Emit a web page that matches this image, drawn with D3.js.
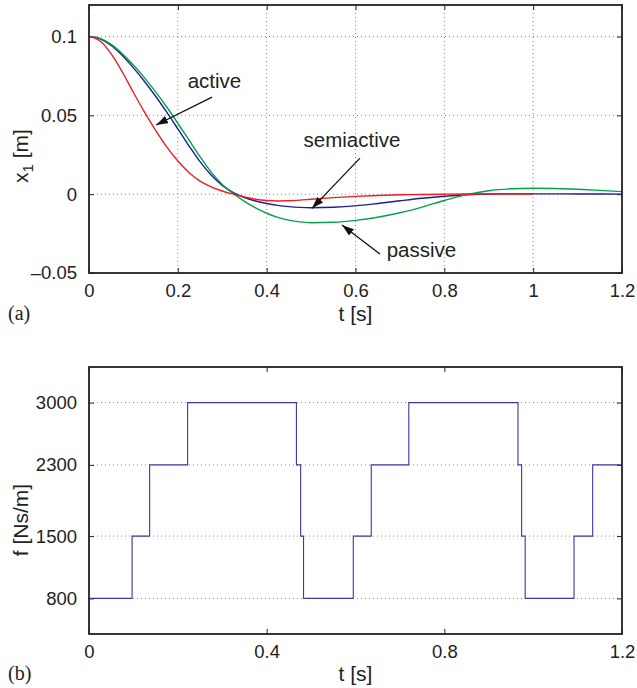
<!DOCTYPE html>
<html>
<head>
<meta charset="UTF-8">
<title>Suspension response</title>
<style>
  body { margin: 0; background: #fff; }
  svg { display: block; }
  .tick text { font-family: "Liberation Sans", Arial, sans-serif; font-size: 18.5px; fill: #222; }
  .tick line { stroke: #222; stroke-width: 1; }
  .lbl { font-family: "Liberation Sans", Arial, sans-serif; font-size: 21px; fill: #222; }
  .note { font-family: "Liberation Sans", Arial, sans-serif; font-size: 20.5px; fill: #222; }
  .panel { font-family: "Liberation Serif", "Times New Roman", serif; font-size: 20px; fill: #222; }
  .grid { stroke: #888; stroke-width: 1; stroke-dasharray: 1,3; }
  .box { fill: none; stroke: #222; stroke-width: 1.8; }
</style>
</head>
<body>
<script src="https://d3js.org/d3.v7.min.js"></script>
<script>
// (a) displacement x1 over time
const tTop = [0, 0.025, 0.05, 0.075, 0.1, 0.125, 0.15, 0.175, 0.2, 0.225, 0.25, 0.275, 0.3,
              0.325, 0.35, 0.375, 0.4, 0.425, 0.45, 0.475, 0.5,
              0.55, 0.6, 0.65, 0.7, 0.75, 0.8, 0.85, 0.9, 0.95, 1.0, 1.05, 1.1, 1.15, 1.2];
const activeX = [0.1, 0.0972, 0.089, 0.0775, 0.0645, 0.052, 0.0405, 0.03, 0.021, 0.0138, 0.0083,
                 0.0047, 0.002, 0, -0.0018, -0.0032, -0.004, -0.0043, -0.0042, -0.0038, -0.0032,
                 -0.0022, -0.0014, -0.0008, -0.0004, -0.0002, 0, 0.0001, 0.0001, 0.0001, 0.0001];
const semiactiveX = [0.1, 0.0985, 0.0943, 0.0879, 0.0801, 0.0715, 0.0621, 0.052, 0.0414, 0.0307,
                     0.0206, 0.0121, 0.0056, 0.001, -0.0021, -0.0043, -0.0059, -0.0071, -0.0079,
                     -0.0084, -0.0086, -0.0083, -0.0074, -0.0059, -0.0042, -0.0026, -0.0013,
                     -0.0004, 0.0001, 0.0002, 0.0002, 0.0002, 0.0001, 0.0001, 0];
const passiveX = [0.1, 0.0988, 0.095, 0.0891, 0.0819, 0.0738, 0.0649, 0.0553, 0.045, 0.0344,
                  0.0238, 0.014, 0.0062, 0.0004, -0.0046, -0.0087, -0.0121, -0.0147, -0.0165,
                  -0.0176, -0.0181, -0.0178, -0.0166, -0.0146, -0.0118, -0.0082, -0.004,
                  -0.0003, 0.0022, 0.0034, 0.0038, 0.0036, 0.0031, 0.0024, 0.0016];
const xTicksTop = [0, 0.2, 0.4, 0.6, 0.8, 1, 1.2];
const xTickLabelsTop = ["0", "0.2", "0.4", "0.6", "0.8", "1", "1.2"];
const yTicksTop = [-0.05, 0, 0.05, 0.1];
const yTickLabelsTop = ["\u20130.05", "0", "0.05", "0.1"];

// (b) damping coefficient steps
const switchTimes = [0, 0.097, 0.1365, 0.222, 0.467, 0.4765, 0.483, 0.595, 0.6355, 0.72,
                     0.9658, 0.974, 0.982, 1.092, 1.134, 1.2];
const dampLevels = [800, 1500, 2300, 3000, 2300, 1500, 800, 1500, 2300, 3000,
                    2300, 1500, 800, 1500, 2300, 2300];
const xTicksBot = [0, 0.4, 0.8, 1.2];
const yTicksBot = [800, 1500, 2300, 3000];

const W = 637, H = 688;
const left = 89, right = 622;

const svg = d3.select("body").append("svg").attr("width", W).attr("height", H);

// arrow head
svg.append("defs").append("marker")
  .attr("id", "head").attr("viewBox", "0 0 12 8")
  .attr("refX", 12).attr("refY", 4)
  .attr("markerWidth", 12).attr("markerHeight", 8)
  .attr("markerUnits", "userSpaceOnUse")
  .attr("orient", "auto")
  .append("path").attr("d", "M0,0 L12,4 L0,8 Z").attr("fill", "#111");

function panel(top, bottom, xDomain, yDomain, xTicks, xLabels, yTicks, yLabels, vGrid) {
  const x = d3.scaleLinear().domain(xDomain).range([left, right]);
  const y = d3.scaleLinear().domain(yDomain).range([bottom, top]);
  const g = svg.append("g");

  // grid
  if (vGrid) {
    g.selectAll(".vg").data(xTicks.slice(1, -1)).enter().append("line")
      .attr("class", "grid")
      .attr("x1", d => x(d)).attr("x2", d => x(d))
      .attr("y1", top).attr("y2", bottom);
  }
  g.selectAll(".hg").data(yTicks.filter(d => y(d) > top + 1 && y(d) < bottom - 1)).enter().append("line")
    .attr("class", "grid")
    .attr("x1", left).attr("x2", right)
    .attr("y1", d => y(d)).attr("y2", d => y(d));

  // axes (inward ticks on all four sides)
  g.append("g").attr("transform", `translate(0,${bottom})`)
    .call(d3.axisBottom(x).tickValues(xTicks).tickSize(-5).tickPadding(11)
      .tickFormat((d, i) => xLabels[i]));
  g.append("g").attr("transform", `translate(0,${top})`)
    .call(d3.axisTop(x).tickValues(xTicks).tickSize(-5).tickFormat(""));
  g.append("g").attr("transform", `translate(${left},0)`)
    .call(d3.axisLeft(y).tickValues(yTicks).tickSize(-5).tickPadding(12)
      .tickFormat((d, i) => yLabels[i]));
  g.append("g").attr("transform", `translate(${right},0)`)
    .call(d3.axisRight(y).tickValues(yTicks).tickSize(-5).tickFormat(""));
  g.selectAll(".domain").remove();
  g.selectAll(".tick text").attr("fill", "#222");

  return { x, y, g };
}

// ---- panel (a)
const A = panel(5, 273, [0, 1.2], [-0.05, 0.12], xTicksTop, xTickLabelsTop,
  yTicksTop, yTickLabelsTop, true);

const series = [
  { vals: semiactiveX, color: "#1f1f8f" },
  { vals: passiveX, color: "#00a24a" },
  { vals: activeX, color: "#ee1c24" }
];
const lineA = d3.line().x(d => A.x(d[0])).y(d => A.y(d[1])).curve(d3.curveMonotoneX);
series.forEach(s => {
  A.g.append("path")
    .datum(s.vals.map((v, i) => [tTop[i], v]))
    .attr("fill", "none").attr("stroke", s.color).attr("stroke-width", 1.4)
    .attr("d", lineA);
});

// annotations
const notes = [
  { text: "active", tx: 0.2825, ty: 0.0673, from: [0.277, 0.0616], to: [0.151, 0.0439] },
  { text: "semiactive", tx: 0.592, ty: 0.0301, from: [0.61, 0.0229], to: [0.502, -0.009] },
  { text: "passive", tx: 0.7485, ty: -0.0398, from: [0.655, -0.038], to: [0.5695, -0.0196] }
];
notes.forEach(n => {
  A.g.append("text").attr("class", "note")
    .attr("x", A.x(n.tx)).attr("y", A.y(n.ty))
    .attr("text-anchor", "middle").text(n.text);
  A.g.append("line")
    .attr("x1", A.x(n.from[0])).attr("y1", A.y(n.from[1]))
    .attr("x2", A.x(n.to[0])).attr("y2", A.y(n.to[1]))
    .attr("stroke", "#111").attr("stroke-width", 1.3)
    .attr("marker-end", "url(#head)");
});

A.g.append("rect").attr("class", "box")
  .attr("x", left).attr("y", 5).attr("width", right - left).attr("height", 273 - 5);

// labels (a)
const yl1 = A.g.append("text").attr("class", "lbl")
  .attr("transform", "translate(28,156) rotate(-90)")
  .attr("text-anchor", "middle");
yl1.append("tspan").text("x");
yl1.append("tspan").attr("font-size", "15px").attr("dy", 5).text("1");
yl1.append("tspan").attr("dy", -5).text(" [m]");
A.g.append("text").attr("class", "lbl")
  .attr("x", (left + right) / 2).attr("y", 321).attr("text-anchor", "middle").text("t [s]");
A.g.append("text").attr("class", "panel").attr("x", 8).attr("y", 320).text("(a)");

// ---- panel (b)
const B = panel(367, 634, [0, 1.2], [400, 3400], xTicksBot, xTicksBot.map(String),
  yTicksBot, yTicksBot.map(String), false);

const lineB = d3.line().x(d => B.x(d[0])).y(d => B.y(d[1])).curve(d3.curveStepAfter);
B.g.append("path")
  .datum(switchTimes.map((t, i) => [t, dampLevels[i]]))
  .attr("fill", "none").attr("stroke", "#3a3aa0").attr("stroke-width", 1.1)
  .attr("d", lineB);

B.g.append("rect").attr("class", "box")
  .attr("x", left).attr("y", 367).attr("width", right - left).attr("height", 634 - 367);

B.g.append("text").attr("class", "lbl")
  .attr("transform", "translate(28,520) rotate(-90)")
  .attr("text-anchor", "middle").text("f [Ns/m]");
B.g.append("text").attr("class", "lbl")
  .attr("x", (left + right) / 2).attr("y", 681).attr("text-anchor", "middle").text("t [s]");
B.g.append("text").attr("class", "panel").attr("x", 8).attr("y", 680).text("(b)");
</script>
</body>
</html>
